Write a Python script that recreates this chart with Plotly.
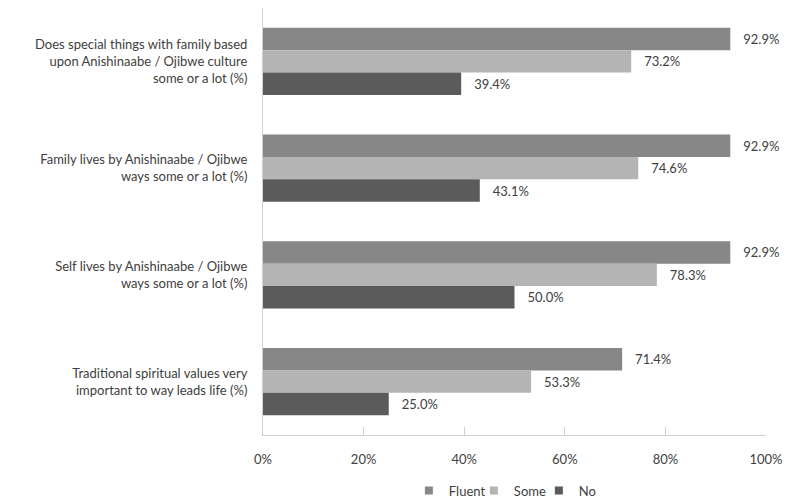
import plotly.graph_objects as go

categories = [
    "Does special things with family based<br>upon Anishinaabe / Ojibwe culture<br>some or a lot (%)",
    "Family lives by Anishinaabe / Ojibwe<br>ways some or a lot (%)",
    "Self lives by Anishinaabe / Ojibwe<br>ways some or a lot (%)",
    "Traditional spiritual values very<br>important to way leads life (%)",
]
fluent = [92.9, 92.9, 92.9, 71.4]
some = [73.2, 74.6, 78.3, 53.3]
no = [39.4, 43.1, 50.0, 25.0]
series = [("Fluent", fluent, "#878787"), ("Some", some, "#b4b4b4"), ("No", no, "#5b5b5b")]
xticks = [0, 20, 40, 60, 80, 100]

font_family = "Lato, Open Sans, sans-serif"
fig = go.Figure()
for name, vals, color in series:
    fig.add_trace(go.Bar(
        y=categories, x=vals, name=name, orientation="h",
        marker=dict(color=color, line=dict(width=0)),
        text=["\u00a0\u00a0\u00a0" + f"{v:.1f}%" for v in vals], textposition="outside",
        textfont=dict(size=13, color="#404040", family=font_family),
        cliponaxis=False, showlegend=False,
    ))
for name, vals, color in series:
    fig.add_trace(go.Scatter(
        x=[None], y=[None], mode="markers", name=name,
        marker=dict(symbol="square", size=8, color=color),
        showlegend=True,
    ))

fig.update_layout(
    width=791, height=504,
    margin=dict(l=263, r=25, t=8, b=69, autoexpand=False),
    paper_bgcolor="white", plot_bgcolor="white",
    barmode="group", bargap=0.37, bargroupgap=0,
    font=dict(family=font_family, size=13, color="#404040"),
    legend=dict(orientation="h", x=0.29, xanchor="left", y=-0.13, yanchor="middle",
                font=dict(size=13, color="#404040"), traceorder="normal",
                itemwidth=30, tracegroupgap=0, entrywidth=20, entrywidthmode="pixels"),
    showlegend=True,
)
fig.update_xaxes(
    range=[0, 100], tickvals=xticks, ticktext=[f"{t}%" for t in xticks],
    showgrid=False, zeroline=False, showline=True, linecolor="#d0d0d0", linewidth=1,
    ticks="inside", ticklen=8, tickcolor="#d0d0d0", automargin=False,
    tickfont=dict(size=13, color="#404040"), ticklabelstandoff=12,
)
fig.update_yaxes(
    autorange="reversed", showgrid=False, zeroline=False, automargin=False,
    showline=True, linecolor="#d0d0d0", linewidth=1, ticks="",
    tickfont=dict(size=13, color="#404040"), ticklabelstandoff=12,
)
fig.write_html("out.html")
